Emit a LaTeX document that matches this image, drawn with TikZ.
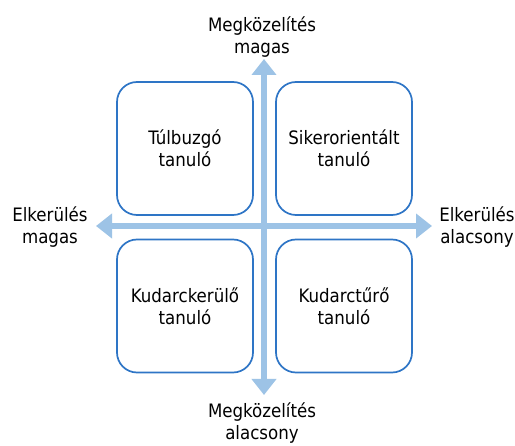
\documentclass[tikz,border=0pt]{standalone}
\usepackage{fontspec}
\setmainfont{DejaVu Sans Condensed}
\usetikzlibrary{arrows.meta}
\definecolor{boxblue}{RGB}{46,117,198}
\definecolor{axisblue}{RGB}{157,195,230}
\begin{document}
\begin{tikzpicture}[x=1pt,y=-1pt,
  every node/.style={font={\fontsize{18.5}{22}\selectfont}, align=center, inner sep=0pt, text=black},
  quadbox/.style={draw=boxblue, line width=1.7pt, rounded corners=20pt, minimum width=136pt, minimum height=133pt},
  axis/.style={draw=axisblue, line width=6pt, {Triangle[width=24pt,length=16pt]}-{Triangle[width=24pt,length=16pt]}}]
\useasboundingbox (0,0) rectangle (515,446);
\fill[white] (0,0) rectangle (515,446);
\node[quadbox] (tl) at (185,148.5) {Túlbuzgó\\tanuló};
\node[quadbox] (tr) at (344,148.5) {Sikerorientált\\tanuló};
\node[quadbox] (bl) at (185,306) {Kudarckerülő\\tanuló};
\node[quadbox] (br) at (344,306) {Kudarctűrő\\tanuló};
\coordinate (up) at (264,59);
\coordinate (down) at (264,395);
\coordinate (left) at (96,226);
\coordinate (right) at (432,226);
\draw[axis] (down) -- (up);
\draw[axis] (left) -- (right);
\node (tlab) at (262,37) {Megközelítés\\magas};
\node (blab) at (262,423) {Megközelítés\\alacsony};
\node (llab) at (50,227) {Elkerülés\\magas};
\node (rlab) at (477,227) {Elkerülés\\alacsony};
\end{tikzpicture}
\end{document}
